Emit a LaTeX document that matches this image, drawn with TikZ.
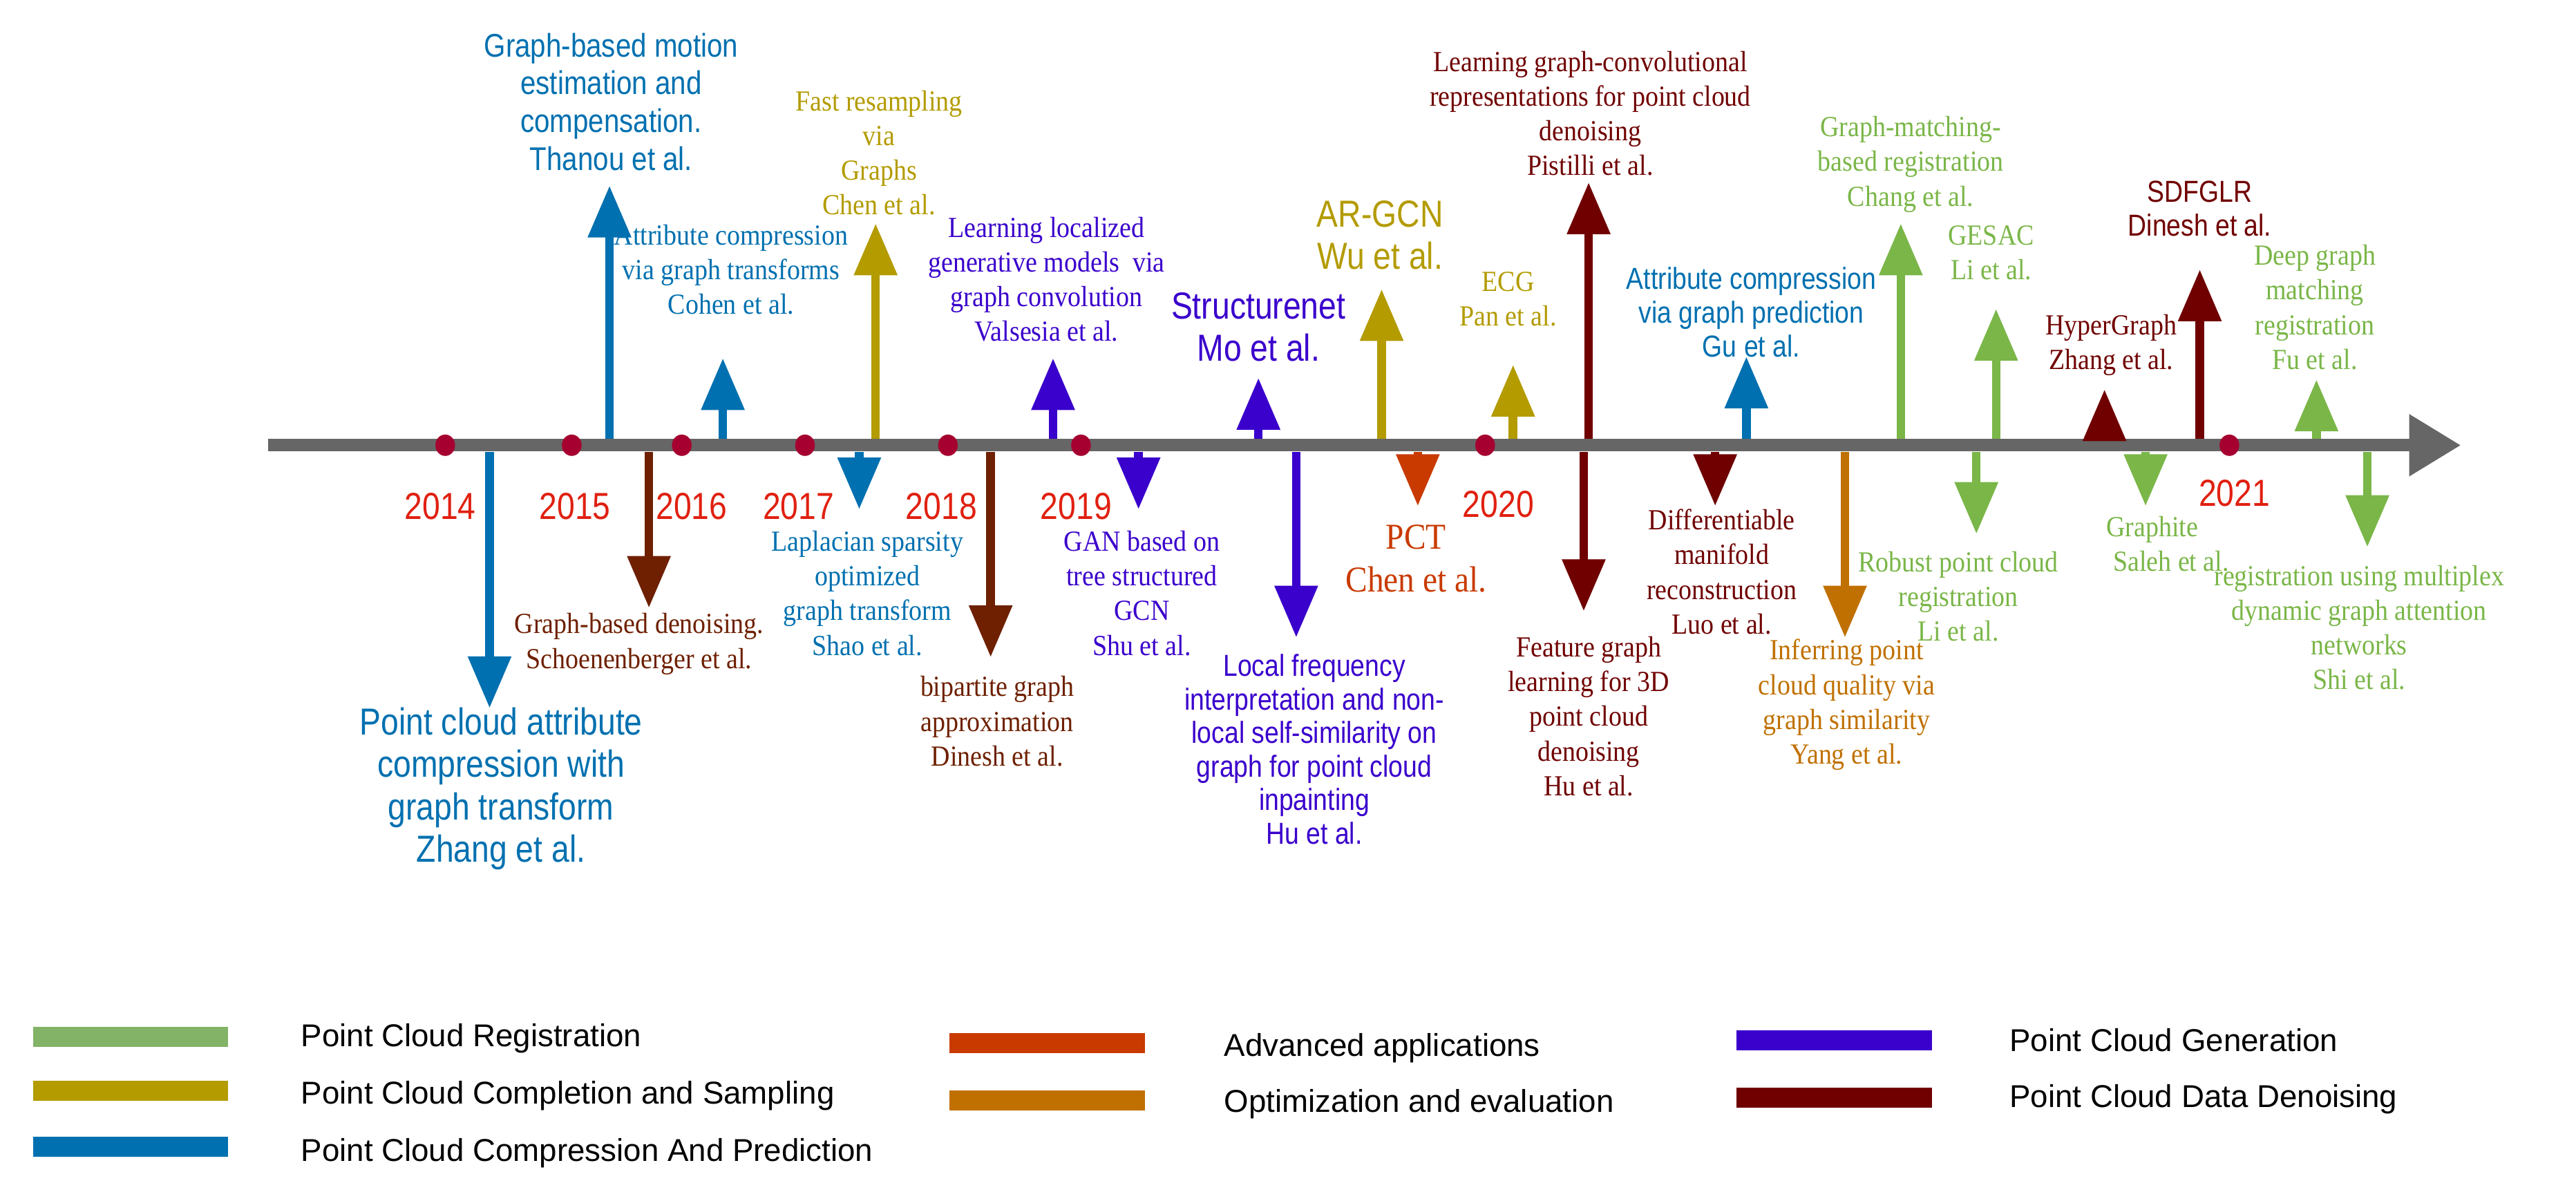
\documentclass[tikz,border=0pt]{standalone}
\usepackage{fontspec}
\setmainfont{Liberation Serif}[FakeStretch=0.9]
\newfontfamily\nsans{Liberation Sans}[FakeStretch=0.85]
\newfontfamily\lsans{Liberation Sans}
\usetikzlibrary{arrows.meta}
\definecolor{cblue}{HTML}{0070B0}
\definecolor{cgold}{HTML}{B39B00}
\definecolor{cpurple}{HTML}{3A00CC}
\definecolor{cdred}{HTML}{700000}
\definecolor{cbrown}{HTML}{6E2000}
\definecolor{cored}{HTML}{C83A00}
\definecolor{corange}{HTML}{C07000}
\definecolor{cgreen}{HTML}{7AB648}
\definecolor{lgreen}{HTML}{82B366}
\definecolor{cyear}{HTML}{E02010}
\definecolor{cdot}{HTML}{A50030}
\begin{document}
\begin{tikzpicture}[x=0.2378mm,y=-0.2378mm,
  arr/.style={line width=1.25mm,-{Triangle[width=6mm,length=7.5mm]}},
  ser/.style={align=center,font=\fontsize{12}{14.3}\selectfont},
  san/.style={align=center,font=\nsans\fontsize{13.5}{15.6}\selectfont},
  big/.style={align=center,font=\nsans\fontsize{15.5}{17.5}\selectfont},
  yr/.style={text=cyear,font=\nsans\fontsize{15.5}{17}\selectfont},
  leg/.style={anchor=west,font=\lsans\fontsize{13}{15}\selectfont},
  bar/.style={line width=2.9mm}]
\useasboundingbox (0,0) rectangle (1568,731);
% axis
\coordinate (a0) at (163,271); \coordinate (a1) at (1498,271);
\draw[line width=1.8mm,color=black!60,-{Triangle[width=8.5mm,length=7.5mm]}] (a0) -- (a1);
\foreach \x in {271,348,415,490,577,658,904,1357}
  \fill[cdot] (\x,271) circle [x radius=6, y radius=6.5];
% years
\node[yr] (y14) at (268,308) {2014};
\node[yr] (y15) at (350,308) {2015};
\node[yr] (y16) at (421,308) {2016};
\node[yr] (y17) at (486,308) {2017};
\node[yr] (y18) at (573,308) {2018};
\node[yr] (y19) at (655,308) {2019};
\node[yr] (y20) at (912,307) {2020};
\node[yr] (y21) at (1360,300) {2021};
% up arrows
\foreach \x/\t/\c in {371/113/cblue,440/218/cblue,533/136/cgold,641/218/cpurple,766/230/cpurple,841/176/cgold,921/222/cgold,967/111/cdred,1063/217/cblue,1157/136/cgreen,1215/188/cgreen,1281/237/cdred,1339/164/cdred,1410/231/cgreen}
  \draw[arr,\c] (\x,267) -- (\x,\t);
% down arrows
\foreach \x/\t/\c in {298/431/cblue,395/370/cbrown,523/310/cblue,603/400/cbrown,693/310/cpurple,789/388/cpurple,863/308/cored,964/372/cdred,1044/308/cdred,1123/388/corange,1203/325/cgreen,1306/308/cgreen,1441/333/cgreen}
  \draw[arr,\c] (\x,275) -- (\x,\t);
% labels above
\node[san,text=cblue] (l1) at (372,62) {Graph-based motion\\estimation and\\compensation.\\Thanou et al.};
\node[ser,text=cblue] (l2) at (445,164) {Attribute compression\\via graph transforms\\Cohen et al.};
\node[ser,text=cgold] (l3) at (535,93) {Fast resampling\\via\\Graphs\\Chen et al.};
\node[ser,text=cpurple] (l4) at (637,170) {Learning localized\\generative models~ via\\graph convolution\\Valsesia et al.};
\node[big,text=cpurple] (l5) at (766,199) {Structurenet\\Mo et al.};
\node[big,text=cgold] (l6) at (840,143) {AR-GCN\\Wu et al.};
\node[ser,text=cgold] (l7) at (918,182) {ECG\\Pan et al.};
\node[ser,text=cdred] (l8) at (968,69) {Learning graph-convolutional\\representations for point cloud\\denoising\\Pistilli et al.};
\node[san,text=cblue,font=\nsans\fontsize{12.5}{14}\selectfont] (l9) at (1066,190) {Attribute compression\\via graph prediction\\Gu et al.};
\node[ser,text=cgreen] (l10) at (1163,100) {Graph-matching-\\based registration\\Chang et al.};
\node[ser,text=cgreen] (l11) at (1212,154) {GESAC\\Li et al.};
\node[ser,text=cdred] (l12) at (1285,210) {HyperGraph\\Zhang et al.};
\node[san,text=cdred,font=\nsans\fontsize{12.5}{14}\selectfont] (l13) at (1339,127) {SDFGLR\\Dinesh et al.};
\node[ser,text=cgreen] (l14) at (1409,187) {Deep graph\\matching\\registration\\Fu et al.};
% labels below
\node[big,text=cblue] (d1) at (305,480) {Point cloud attribute\\compression with\\graph transform\\Zhang et al.};
\node[ser,text=cbrown] (d2) at (389,392) {Graph-based denoising.\\Schoenenberger et al.};
\node[ser,text=cblue] (d3) at (528,361) {Laplacian sparsity\\optimized\\graph transform\\Shao et al.};
\node[ser,text=cbrown] (d4) at (607,439) {bipartite graph\\approximation\\Dinesh et al.};
\node[ser,text=cpurple] (d5) at (695,361) {GAN based on\\tree structured\\GCN\\Shu et al.};
\node[san,text=cpurple,font=\nsans\fontsize{12.5}{13.8}\selectfont] (d6) at (800,456) {Local frequency\\interpretation and non-\\local self-similarity on\\graph for point cloud\\inpainting\\Hu et al.};
\node[ser,text=cored,font=\fontsize{15}{17.5}\selectfont] (d7) at (862,340) {PCT\\Chen et al.};
\node[ser,text=cdred] (d8) at (967,436) {Feature graph\\learning for 3D\\point cloud\\denoising\\Hu et al.};
\node[ser,text=cdred] (d9) at (1048,348) {Differentiable\\manifold\\reconstruction\\Luo et al.};
\node[ser,text=corange] (d10) at (1124,429) {Inferring point\\cloud quality via\\graph similarity\\Yang et al.};
\node[ser,text=cgreen] (d11) at (1192,363) {Robust point cloud\\registration\\Li et al.};
\node[ser,text=cgreen] (d12) at (1310,331) {Graphite\\\hspace*{1.3em}Saleh et al.};
\node[ser,text=cgreen] (d13) at (1436,382) {registration using multiplex\\dynamic graph attention\\networks\\Shi et al.};
% legend
\foreach \n/\xa/\y/\c in {g1/20/631/lgreen,g2/20/664/cgold,g3/20/698/cblue,g4/578/635/cored,g5/578/670/corange,g6/1057/633/cpurple,g7/1057/668/cdred}{
  \coordinate (\n a) at (\xa,\y); \coordinate (\n b) at (\xa+119,\y);
  \draw[bar,\c] (\n a) -- (\n b);}
\node[leg] (t1) at (178,632) {Point Cloud Registration};
\node[leg] (t2) at (178,667) {Point Cloud Completion and Sampling};
\node[leg] (t3) at (178,702) {Point Cloud Compression And Prediction};
\node[leg] (t4) at (740,638) {Advanced applications};
\node[leg] (t5) at (740,672) {Optimization and evaluation};
\node[leg] (t6) at (1218,633) {Point Cloud Generation};
\node[leg] (t7) at (1218,669) {Point Cloud Data Denoising};
\end{tikzpicture}
\end{document}
